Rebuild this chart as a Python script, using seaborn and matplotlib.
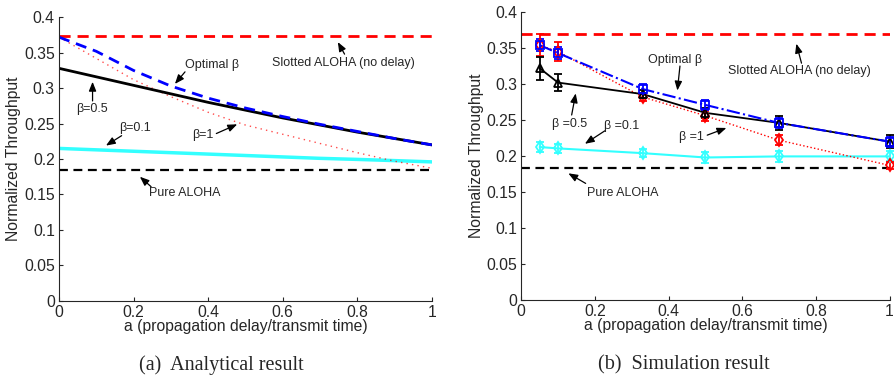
import numpy as np
import pandas as pd
import matplotlib
matplotlib.use("Agg")
import matplotlib.pyplot as plt
import seaborn as sns

# analytical curves
a_ana = [0.0, 0.1, 0.2, 0.3, 0.4, 0.5, 0.6, 0.7, 0.8, 0.9, 1.0]
opt_ana = [0.372, 0.352, 0.325, 0.303, 0.286, 0.272, 0.260, 0.249, 0.239, 0.229, 0.220]
b05_ana = [0.328, 0.316, 0.304, 0.292, 0.280, 0.269, 0.258, 0.248, 0.238, 0.229, 0.220]
b1_ana = [0.372, 0.342, 0.312, 0.288, 0.266, 0.248, 0.235, 0.222, 0.209, 0.197, 0.187]
b01_ana = [0.215, 0.213, 0.211, 0.209, 0.207, 0.205, 0.203, 0.201, 0.1995, 0.1978, 0.196]
slotted_ana = 0.374
pure_ana = 0.184

# simulation points
a_sim = [0.05, 0.1, 0.33, 0.5, 0.7, 1.0]
opt_sim = [0.354, 0.343, 0.293, 0.271, 0.246, 0.220]
opt_err = [0.008, 0.008, 0.007, 0.007, 0.007, 0.007]
b1_sim = [0.354, 0.345, 0.282, 0.256, 0.222, 0.187]
b1_err = [0.015, 0.013, 0.006, 0.007, 0.007, 0.005]
b05_sim = [0.322, 0.302, 0.286, 0.260, 0.246, 0.220]
b05_err = [0.016, 0.012, 0.006, 0.007, 0.010, 0.009]
b01_sim = [0.2125, 0.2106, 0.204, 0.198, 0.1995, 0.1995]
b01_err = [0.007, 0.006, 0.006, 0.008, 0.008, 0.007]
slotted_sim = 0.369
pure_sim = 0.184

sns.set_style("ticks")
plt.rcParams['font.family'] = ['Liberation Sans', 'DejaVu Sans']

fig = plt.figure(figsize=(8.94, 3.76), dpi=100)
ax1 = fig.add_axes([0.066, 0.200, 0.417, 0.754])
ax2 = fig.add_axes([0.583, 0.202, 0.412, 0.766])

CYAN = "#33ffff"

# ---- (a) analytical
df = pd.DataFrame({"a": a_ana, "opt": opt_ana, "b05": b05_ana, "b1": b1_ana, "b01": b01_ana})
ax1.axhline(slotted_ana, color="red", ls=(0, (4, 2.5)), lw=2)
ax1.axhline(pure_ana, color="black", ls=(0, (4, 2.5)), lw=1.6)
sns.lineplot(data=df, x="a", y="b01", ax=ax1, color=CYAN, lw=2.5)
sns.lineplot(data=df, x="a", y="b1", ax=ax1, color="red", lw=1, ls=(0, (1, 3)), alpha=0.7)
sns.lineplot(data=df, x="a", y="b05", ax=ax1, color="black", lw=2)
sns.lineplot(data=df, x="a", y="opt", ax=ax1, color="blue", lw=2, ls=(0, (4, 2.5)))

# ---- (b) simulation
ax2.axhline(slotted_sim, color="red", ls=(0, (4, 2.5)), lw=2)
ax2.axhline(pure_sim, color="black", ls=(0, (4, 2.5)), lw=1.6)
series = [
    (b01_sim, b01_err, CYAN, "-", "d", 1.5),
    (b1_sim, b1_err, "red", ":", "d", 1),
    (b05_sim, b05_err, "black", "-", "^", 1.3),
    (opt_sim, opt_err, "blue", "-.", "s", 1.5),
]
for ys, es, c, ls, m, lw in series:
    sns.lineplot(x=a_sim, y=ys, ax=ax2, color=c, ls=ls, lw=lw)
    ax2.errorbar(a_sim, ys, yerr=es, fmt=m, color=c, mfc="none", ms=6, mew=1.3,
                 capsize=3, elinewidth=1.3, clip_on=False)

for ax in (ax1, ax2):
    ax.set_xlim(0, 1)
    ax.set_ylim(0, 0.4)
    ax.set_xticks([0, 0.2, 0.4, 0.6, 0.8, 1])
    ax.set_xticklabels(["0", "0.2", "0.4", "0.6", "0.8", "1"])
    ax.set_yticks(np.arange(0, 0.401, 0.05))
    ax.set_yticklabels(["0", "0.05", "0.1", "0.15", "0.2", "0.25", "0.3", "0.35", "0.4"])
    ax.tick_params(direction="in", length=3, labelsize=11.3, pad=3, width=0.8)
    ax.set_xlabel("a (propagation delay/transmit time)", fontsize=11.3, labelpad=-1)
    ax.set_ylabel("Normalized Throughput", fontsize=11.3, labelpad=2)
    sns.despine(ax=ax)

arrow = dict(arrowstyle="-|>,head_length=0.55,head_width=0.22", color="black",
             lw=0.9, mutation_scale=10, shrinkA=0, shrinkB=0)
ann_fs = 9

def note(ax, text, xy, xytext, txy):
    ax.annotate("", xy=xy, xytext=xytext, arrowprops=arrow)
    ax.text(txy[0], txy[1], text, fontsize=ann_fs, ha="center", va="center")

note(ax1, "Slotted ALOHA (no delay)", (0.748, 0.365), (0.766, 0.348), (0.762, 0.335))
note(ax1, "Optimal β", (0.311, 0.306), (0.338, 0.323), (0.41, 0.332))
note(ax1, "β=0.5", (0.09, 0.309), (0.09, 0.282), (0.088, 0.270))
note(ax1, "β=0.1", (0.126, 0.219), (0.168, 0.233), (0.205, 0.244))
note(ax1, "β=1", (0.478, 0.249), (0.422, 0.236), (0.387, 0.234))
note(ax1, "Pure ALOHA", (0.217, 0.175), (0.247, 0.161), (0.338, 0.152))

note(ax2, "Slotted ALOHA (no delay)", (0.747, 0.356), (0.761, 0.329), (0.756, 0.318))
note(ax2, "Optimal β", (0.424, 0.291), (0.431, 0.325), (0.417, 0.334))
note(ax2, "β =0.5", (0.148, 0.287), (0.137, 0.257), (0.13, 0.244))
note(ax2, "β =0.1", (0.173, 0.217), (0.227, 0.235), (0.272, 0.242))
note(ax2, "β =1", (0.557, 0.239), (0.505, 0.229), (0.463, 0.226))
note(ax2, "Pure ALOHA", (0.128, 0.176), (0.175, 0.162), (0.275, 0.149))

fig.text(0.248, 0.03, "(a)  Analytical result", family="Liberation Serif", fontsize=14.5, ha="center", va="center")
fig.text(0.765, 0.03, "(b)  Simulation result", family="Liberation Serif", fontsize=14.5, ha="center", va="center")

fig.savefig("out.png", dpi=100)
